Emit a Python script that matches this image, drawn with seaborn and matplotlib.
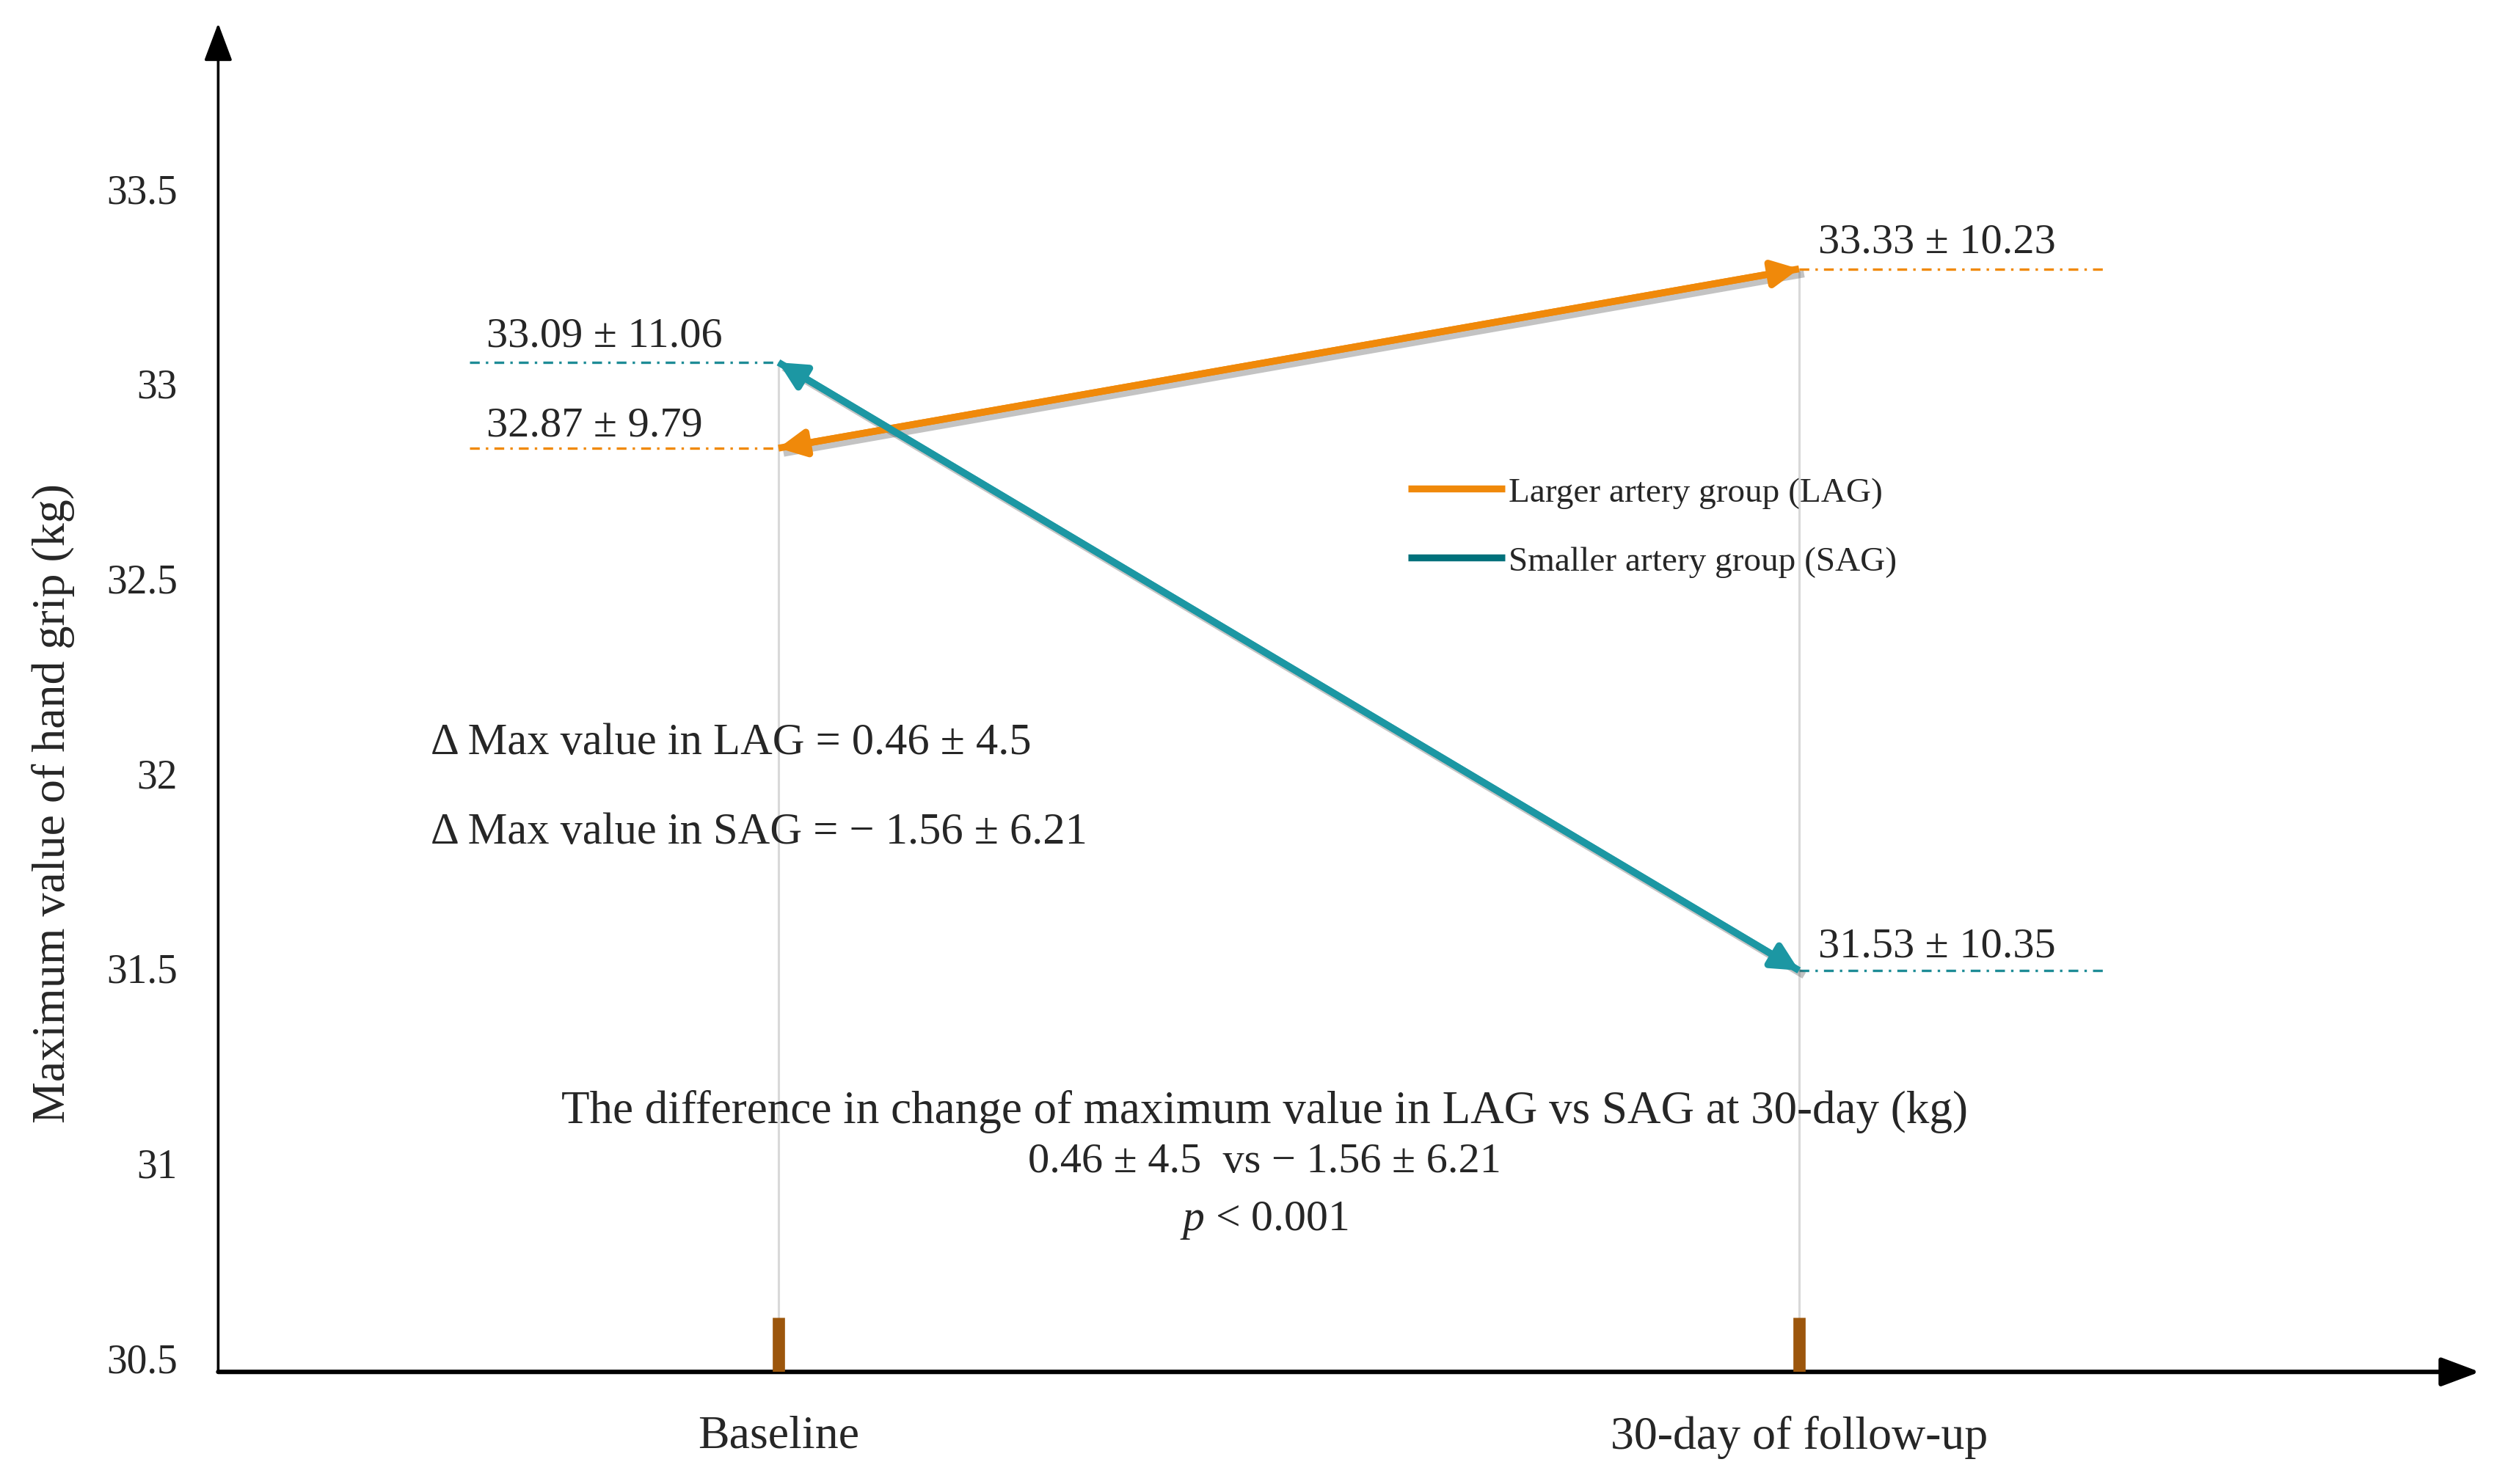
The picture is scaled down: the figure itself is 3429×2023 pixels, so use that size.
import numpy as np
import pandas as pd
import matplotlib
matplotlib.use("Agg")
import matplotlib.pyplot as plt
import matplotlib.patheffects as pe
from matplotlib.transforms import ScaledTranslation
import seaborn as sns

# ---------------- data ----------------
timepoints = ["Baseline", "30-day of follow-up"]
groups = ["Larger artery group (LAG)", "Smaller artery group (SAG)"]
lag_values = [32.87, 33.33]
lag_sd = [9.79, 10.23]
sag_values = [33.09, 31.53]
sag_sd = [11.06, 10.35]
y_ticks = [30.5, 31, 31.5, 32, 32.5, 33, 33.5]
y_tick_labels = ["30.5", "31", "31.5", "32", "32.5", "33", "33.5"]
delta_lines = ["Δ Max value in LAG = 0.46 ± 4.5",
               "Δ Max value in SAG = − 1.56 ± 6.21"]
diff_lines = ["The difference in change of maximum value in LAG vs SAG at 30-day (kg)",
              "0.46 ± 4.5  vs − 1.56 ± 6.21",
              "$\\mathit{p}$ < 0.001"]

ORANGE = "#F0890A"
TEAL = "#1C97A3"
TEAL_DARK = "#00717B"
TEAL_DASH = "#1E8C96"
BROWN = "#9C560C"

sns.set_theme(style="white")
plt.rcParams["font.family"] = ["Liberation Serif", "DejaVu Serif"]
plt.rcParams["mathtext.fontset"] = "custom"
plt.rcParams["mathtext.rm"] = "Liberation Serif"
plt.rcParams["mathtext.it"] = "Liberation Serif:italic"

df = pd.DataFrame({
    "x": [0, 1, 0, 1],
    "value": lag_values + sag_values,
    "group": [groups[0]] * 2 + [groups[1]] * 2,
})

fig = plt.figure(figsize=(17.15, 10.12), dpi=200)
ax = fig.add_axes([0.0867, 0.0755, 0.8986, 0.9083])

shadow = [pe.SimpleLineShadow(offset=(2.5, -2.5), shadow_color="#555555", alpha=0.35), pe.Normal()]
sns.lineplot(data=df, x="x", y="value", hue="group", palette=[ORANGE, TEAL],
             linewidth=3.4, ax=ax, legend=True, zorder=5)
for ln in ax.get_lines():
    ln.set_path_effects(shadow)
    ln.set_solid_capstyle("butt")

# arrow heads on both ends of each series
for vals, col in [(lag_values, ORANGE), (sag_values, TEAL)]:
    ax.annotate("", xy=(1, vals[1]), xytext=(0, vals[0]),
                arrowprops=dict(arrowstyle="<|-|>,head_length=0.9,head_width=0.45",
                                color=col, lw=3.4, shrinkA=0, shrinkB=0,
                                mutation_scale=12), zorder=6)

# vertical light grey lines
for i in range(2):
    ax.plot([i, i], [30.5, max(lag_values[i], sag_values[i])], color="#D9D9D9", lw=1.1, zorder=1)

# dash-dot reference lines
dash = (0, (4, 2.5, 1, 2.5))
ax.plot([-0.303, 0], [sag_values[0]] * 2, color=TEAL_DASH, lw=1.2, linestyle=dash, zorder=2)
ax.plot([-0.303, 0], [lag_values[0]] * 2, color=ORANGE, lw=1.2, linestyle=dash, zorder=2)
ax.plot([1, 1.302], [lag_values[1]] * 2, color=ORANGE, lw=1.2, linestyle=dash, zorder=2)
ax.plot([1, 1.302], [sag_values[1]] * 2, color=TEAL_DASH, lw=1.2, linestyle=dash, zorder=2)

# value labels
fs = 21
ax.text(-0.286, sag_values[0] + 0.068, f"{sag_values[0]:.2f} ± {sag_sd[0]:.2f}", fontsize=fs, va="center", ha="left")
ax.text(-0.286, lag_values[0] + 0.06, f"{lag_values[0]:.2f} ± {lag_sd[0]:.2f}", fontsize=fs, va="center", ha="left")
ax.text(1.019, lag_values[1] + 0.07, f"{lag_values[1]:.2f} ± {lag_sd[1]:.2f}", fontsize=fs, va="center", ha="left")
ax.text(1.019, sag_values[1] + 0.063, f"{sag_values[1]:.2f} ± {sag_sd[1]:.2f}", fontsize=fs, va="center", ha="left")

# delta texts
ax.text(-0.341, 32.115, delta_lines[0], fontsize=21.8, va="center", ha="left")
ax.text(-0.341, 31.885, delta_lines[1], fontsize=21.8, va="center", ha="left")

# difference texts
for yy, s, fsz in zip([31.17, 31.04, 30.89], diff_lines, [22.7, 21, 21.5]):
    ax.text(0.476, yy, s, fontsize=fsz, va="center", ha="center")

# brown markers on x axis
ax.vlines([0, 1], 30.5, 30.64, colors=BROWN, lw=6, zorder=7)

# axes limits / ticks
ax.set_xlim(-0.549, 1.667)
ax.set_ylim(30.5, 33.96)
ax.set_xticks([0, 1], timepoints)
ax.set_yticks(y_ticks, y_tick_labels)
ax.tick_params(axis="both", length=0)
ax.tick_params(axis="y", pad=20, labelsize=20)
ax.tick_params(axis="x", pad=21, labelsize=23)
off = ScaledTranslation(0, 0.1, fig.dpi_scale_trans)
for lab in ax.get_yticklabels():
    lab.set_transform(lab.get_transform() + off)
ax.set_xlabel("")
ax.set_ylabel("")
for sp in ax.spines.values():
    sp.set_visible(False)

# axis arrows
ax.annotate("", xy=(0, 1), xytext=(0, 0), xycoords="axes fraction",
            arrowprops=dict(arrowstyle="-|>,head_length=0.8,head_width=0.3", color="black",
                            lw=1.3, shrinkA=0, shrinkB=0, mutation_scale=20), annotation_clip=False)
ax.annotate("", xy=(1, 0), xytext=(0, 0), xycoords="axes fraction",
            arrowprops=dict(arrowstyle="-|>,head_length=0.8,head_width=0.3", color="black",
                            lw=2.2, shrinkA=0, shrinkB=0, mutation_scale=20), annotation_clip=False)

fig.text(0.021, 0.459, "Maximum value of hand grip (kg)", rotation=90, fontsize=23,
         va="center", ha="center")

# legend
leg = ax.legend(loc="upper left", bbox_to_anchor=(0.526, 0.664), frameon=False,
                fontsize=17, handlelength=2.8, handletextpad=0.1, labelspacing=1.08,
                borderpad=0, borderaxespad=0)
leg_lines = leg.get_lines()
leg_lines[0].set_color(ORANGE)
leg_lines[1].set_color(TEAL_DARK)
for l in leg_lines:
    l.set_linewidth(3.4)
    l.set_path_effects([])

fig.savefig("out.png", dpi=200)
